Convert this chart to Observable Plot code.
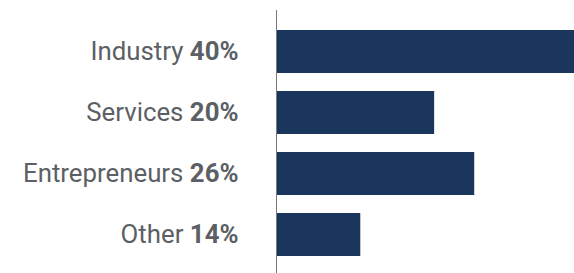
<!DOCTYPE html>
<html>
<head>
<meta charset="utf-8">
<script src="https://cdn.jsdelivr.net/npm/d3@7"></script>
<script src="https://cdn.jsdelivr.net/npm/@observablehq/plot@0.6"></script>
<style>
  html, body { margin: 0; padding: 0; background: #fff; }
  #chart svg { display: block; }
</style>
</head>
<body>
<div id="chart"></div>
<script>
// Categories and their labelled shares
const categories = ["Industry", "Services", "Entrepreneurs", "Other"];
const shareLabels = ["40%", "20%", "26%", "14%"];
// Bar lengths as drawn in the picture (same units as the shares)
const barLengths = [37.8, 20, 25.1, 10.6];

const data = categories.map((c, i) => ({category: c, label: shareLabels[i], value: barLengths[i]}));

const chart = Plot.plot({
  width: 574,
  height: 273,
  marginLeft: 277,
  marginRight: 0,
  marginTop: 10,
  marginBottom: 0,
  x: {domain: [0, 37.8], axis: null},
  y: {domain: categories, axis: null, paddingInner: 0.29, paddingOuter: 0.266, align: 0.545},
  style: {fontFamily: "Roboto, sans-serif", background: "#fff"},
  marks: [
    Plot.barX(data, {x: "value", y: "category", fill: "#1a365d"}),
    Plot.ruleX([0], {stroke: "#7a7a7a", strokeWidth: 1, dx: -1}),
    Plot.text(data, {
      x: 0, y: "category", text: "category",
      textAnchor: "end", dx: -39, fontSize: 25.8, fill: "#5c5f64",
      className: "cat-label"
    })
  ]
});

// Add the bold percentage after each category name
const texts = chart.querySelectorAll(".cat-label text");
texts.forEach((t, i) => {
  const name = t.textContent;
  t.textContent = name + " ";
  const ts = document.createElementNS("http://www.w3.org/2000/svg", "tspan");
  ts.setAttribute("font-weight", "bold");
  ts.textContent = data[i].label;
  t.appendChild(ts);
});

document.getElementById("chart").appendChild(chart);
</script>
</body>
</html>
